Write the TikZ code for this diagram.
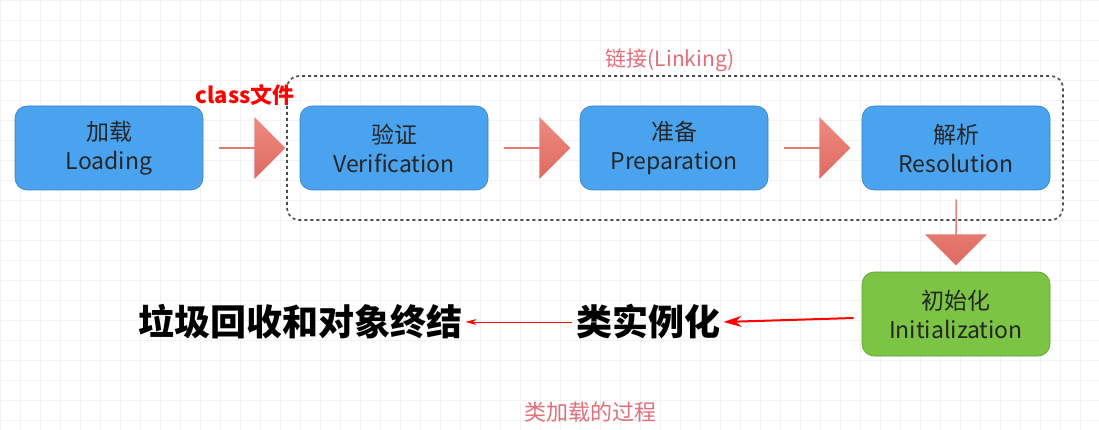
\documentclass[tikz,border=0pt]{standalone}
\usepackage{fontspec}
\setmainfont{Noto Sans CJK SC}
\newfontfamily\cjkbold{Noto Sans CJK SC Black}
\usetikzlibrary{shapes.arrows,arrows.meta}
\definecolor{boxblue}{HTML}{4AA3EE}
\definecolor{boxgreen}{HTML}{7CC443}
\definecolor{arrowred}{HTML}{EE8A80}
\definecolor{arrowdark}{HTML}{DE6A62}
\definecolor{lblred}{HTML}{E0707A}
\tikzset{
 stage/.style={draw=boxblue!80!black, line width=0.6pt, fill=boxblue, rounded corners=12pt, minimum width=188pt, minimum height=84pt, align=center, font=\fontsize{23}{29}\selectfont, text=black!85},
 bigarrow/.style={single arrow, draw=none, top color=arrowred, bottom color=arrowdark, minimum height=66pt, minimum width=62pt, single arrow head extend=8pt, inner sep=0pt, single arrow tip angle=90},
 bigtext/.style={font=\fontsize{36}{40}\selectfont\bfseries, text=black},
}
\begin{document}
\begin{tikzpicture}[x=1pt,y=-1pt]
\useasboundingbox (0,0) rectangle (1099,430);
\fill[white] (0,0) rectangle (1099,430);
\foreach \i in {0,20,...,1099} \draw[black!5,line width=0.5pt] (\i,0) -- (\i,430);
\foreach \j in {0,20,...,430} \draw[black!5,line width=0.5pt] (0,\j) -- (1099,\j);
\draw[black!70, dashed, line width=1.6pt, rounded corners=12pt] (287,76) rectangle (1063,220);
\node[text=lblred, font=\fontsize{21}{24}\selectfont] (lk) at (670,60) {链接(Linking)};
\node[stage] (load) at (109,148) {加载\\Loading};
\node[stage] (ver) at (394,148) {验证\\Verification};
\node[stage] (pre) at (674,148) {准备\\Preparation};
\node[stage] (res) at (956,148) {解析\\Resolution};
\node[stage, fill=boxgreen, draw=boxgreen!80!black] (ini) at (956,314) {初始化\\Initialization};
\node[bigarrow] (a1) at (252,148) {};
\node[bigarrow] (a2) at (537,148) {};
\node[bigarrow] (a3) at (817,148) {};
\node[bigarrow, shape border rotate=270] (a4) at (956,232) {};
\node[text=red, font=\fontsize{22}{24}\selectfont\bfseries] (cls) at (245,95) {class文件};
\node[bigtext] (inst) at (648,322) {类实例化};
\node[bigtext] (gc) at (300,322) {垃圾回收和对象终结};
\draw[red, line width=2pt, -{Stealth[length=18pt,width=11pt]}] (ini.west) ++(-8,4) coordinate (c1) -- (inst.east);
\draw[red, line width=1pt, -{Stealth[length=11pt,width=6pt]}] (inst.west) -- (gc.east);
\node[text=lblred, font=\fontsize{22}{24}\selectfont] (title) at (590,412) {类加载的过程};
\end{tikzpicture}
\end{document}
